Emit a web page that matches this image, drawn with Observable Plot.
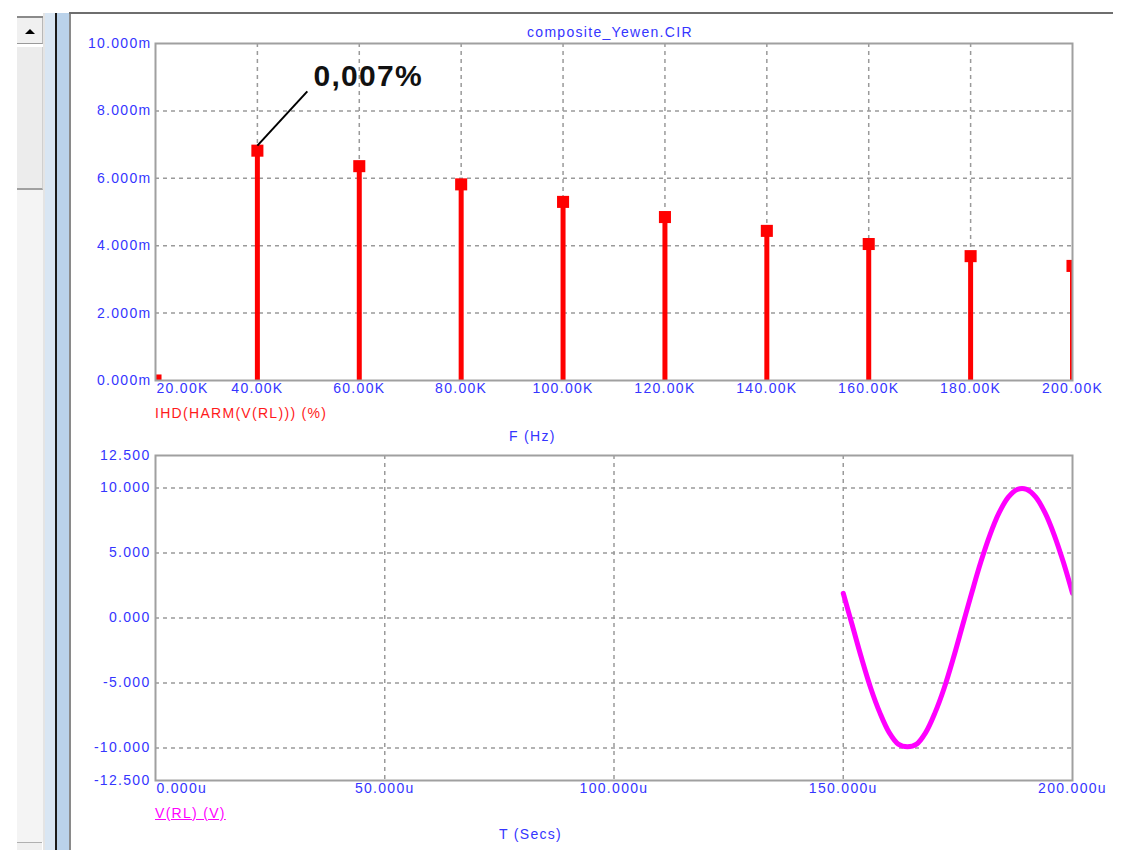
<!DOCTYPE html>
<html>
<head>
<meta charset="utf-8">
<script src="https://cdn.jsdelivr.net/npm/d3@7"></script>
<script src="https://cdn.jsdelivr.net/npm/@observablehq/plot@0.6"></script>
<style>
  html, body { margin:0; padding:0; background:#fff; }
  body { width:1124px; height:850px; position:relative; overflow:hidden; font-family:"Liberation Sans", Arial, sans-serif; }
  .abs { position:absolute; }
  .lbl { position:absolute; font-size:14px; letter-spacing:1.3px; white-space:nowrap; transform:translateY(-50%); line-height:16px; }
  svg text { letter-spacing:1.3px; }
</style>
</head>
<body>
<!-- window chrome (left scrollbar + splitter) -->
<div class="abs" style="left:17px;top:16px;width:26px;height:2px;background:#8a8a8a"></div>
<div class="abs" style="left:17px;top:18px;width:25px;height:25px;background:#f0f0f0;border-right:1px solid #b8b8b8;border-bottom:1px solid #9a9a9a"></div>
<div class="abs" style="left:25px;top:29px;width:0;height:0;border-left:5px solid transparent;border-right:5px solid transparent;border-bottom:5px solid #000"></div>
<div class="abs" style="left:17px;top:47px;width:25px;height:141px;background:#ececec;border-right:1px solid #d0d0d0;border-bottom:2px solid #a0a0a0"></div>
<div class="abs" style="left:17px;top:190px;width:26px;height:652px;background:#f4f4f4"></div>
<div class="abs" style="left:17px;top:842px;width:25px;height:8px;background:#f0f0f0;border-top:1px solid #b0b0b0"></div>
<div class="abs" style="left:43px;top:13px;width:2px;height:837px;background:#e4e4e4"></div>
<div class="abs" style="left:45px;top:13px;width:10px;height:837px;background:#d9e6f3"></div>
<div class="abs" style="left:55px;top:13px;width:2px;height:837px;background:#1a1a1a"></div>
<div class="abs" style="left:57px;top:13px;width:12px;height:837px;background:#bad2ea"></div>
<div class="abs" style="left:69px;top:13px;width:2px;height:837px;background:#8a8a8a"></div>
<div class="abs" style="left:69px;top:12px;width:1044px;height:2px;background:#6e6e6e"></div>

<div id="top" class="abs" style="left:0;top:0"></div>
<div id="bot" class="abs" style="left:0;top:450px"></div>

<div class="lbl" id="title" style="left:527px;top:32px;color:#3535ff">composite_Yewen.CIR</div>
<div class="lbl" style="left:155px;top:413px;color:#ff1a1a">IHD(HARM(V(RL))) (%)</div>
<div class="lbl" style="left:509px;top:436px;color:#3535ff">F (Hz)</div>
<div class="lbl" style="left:155px;top:813px;color:#ff00ff;text-decoration:underline">V(RL) (V)</div>
<div class="lbl" style="left:499px;top:834px;color:#3535ff">T (Secs)</div>

<script>
// ---- data ----
const freqK   = [20, 40, 60, 80, 100, 120, 140, 160, 180, 200];          // kHz
const ihdMilli = [0, 6.82, 6.36, 5.82, 5.30, 4.85, 4.44, 4.05, 3.69, 3.40]; // IHD in m(%)
const freqTicks = [20, 40, 60, 80, 100, 120, 140, 160, 180, 200];
const freqGrid  = [40, 60, 80, 100, 120, 140, 160, 180];
const ihdTicks  = [0, 2, 4, 6, 8, 10];
const ihdGrid   = [2, 4, 6, 8];
const annoFrom  = [40, 6.97];
const annoTo    = [49.8, 8.58];
const annoText  = ["0,007%"];
const annoPos   = [51, 9.02];

const tMicro = [150, 152, 154, 156, 158, 160, 162, 164, 166, 168, 170, 172, 174, 176, 178, 180, 182, 184, 186, 188, 190, 192, 194, 196, 198, 200];
const vRL    = [1.9, -0.6, -3.1, -5.4, -7.3, -8.8, -9.7, -9.9, -9.7, -8.8, -7.3, -5.4, -3.1, -0.6, 1.9, 4.3, 6.4, 8.1, 9.3, 9.9, 9.9, 9.3, 8.1, 6.4, 4.3, 1.9];
const tTicks = [0, 50, 100, 150, 200];
const tGrid  = [50, 100, 150];
const vTicks = [-12.5, -10, -5, 0, 5, 10, 12.5];
const vGrid  = [-10, -5, 0, 5, 10];

// ---- styles ----
const FONT = "Liberation Sans, Arial, sans-serif";
const BLUE = "#3535ff", RED = "#ff0000", MAG = "#ff00ff", GRID = "#9a9a9a", FRAME = "#a0a0a0";
const gridOpts = {stroke: GRID, strokeOpacity: 1, strokeWidth: 1.5, strokeDasharray: "4,4"};

const ihdData = freqK.map((f, i) => ({f, v: ihdMilli[i]}));

const topPlot = Plot.plot({
  width: 1124, height: 450,
  marginLeft: 155, marginRight: 52, marginTop: 43, marginBottom: 70,
  x: {domain: [20, 200], axis: null},
  y: {domain: [0, 10], axis: null},
  style: {fontFamily: FONT, background: "transparent", overflow: "visible"},
  marks: [
    Plot.gridX(freqGrid, gridOpts),
    Plot.gridY(ihdGrid, gridOpts),
    Plot.ruleX(ihdData, {x: "f", y1: 0, y2: "v", stroke: RED, strokeWidth: 5, clip: true}),
    Plot.dot(ihdData, {x: "f", y: "v", symbol: "square", r: 6.8, fill: RED, stroke: "none", clip: true}),
    Plot.frame({stroke: FRAME, strokeWidth: 2}),
    Plot.text(ihdTicks, {y: d => d, text: d => d.toFixed(3) + "m", frameAnchor: "left", dx: -4, textAnchor: "end", fill: BLUE, fontSize: 14}),
    Plot.text(freqTicks.slice(0, 1), {x: d => d, text: d => d.toFixed(2) + "K", frameAnchor: "bottom", dy: 12, dx: 1, textAnchor: "start", fill: BLUE, fontSize: 14}),
    Plot.text(freqTicks.slice(1), {x: d => d, text: d => d.toFixed(2) + "K", frameAnchor: "bottom", dy: 12, textAnchor: "middle", fill: BLUE, fontSize: 14}),
    Plot.link([0], {x1: () => annoFrom[0], y1: () => annoFrom[1], x2: () => annoTo[0], y2: () => annoTo[1], stroke: "#000", strokeWidth: 2}),
    Plot.text(annoText, {x: () => annoPos[0], y: () => annoPos[1], text: d => d, textAnchor: "start", fontSize: 30, fontWeight: "bold", fill: "#111"})
  ]
});
document.getElementById("top").appendChild(topPlot);

const vData = tMicro.map((t, i) => ({t, v: vRL[i]}));
const botPlot = Plot.plot({
  width: 1124, height: 400,
  marginLeft: 155, marginRight: 52, marginTop: 5, marginBottom: 70,
  x: {domain: [0, 200], axis: null},
  y: {domain: [-12.5, 12.5], axis: null},
  style: {fontFamily: FONT, background: "transparent", overflow: "visible"},
  marks: [
    Plot.gridX(tGrid, gridOpts),
    Plot.gridY(vGrid, gridOpts),
    Plot.line(vData, {x: "t", y: "v", stroke: MAG, strokeWidth: 5, curve: "catmull-rom", clip: true}),
    Plot.frame({stroke: FRAME, strokeWidth: 2}),
    Plot.text(vTicks, {y: d => d, text: d => d.toFixed(3), frameAnchor: "left", dx: -5, textAnchor: "end", fill: BLUE, fontSize: 14}),
    Plot.text(tTicks.slice(0, 1), {x: d => d, text: d => d.toFixed(3) + "u", frameAnchor: "bottom", dy: 12, dx: 1, textAnchor: "start", fill: BLUE, fontSize: 14}),
    Plot.text(tTicks.slice(1), {x: d => d, text: d => d.toFixed(3) + "u", frameAnchor: "bottom", dy: 12, textAnchor: "middle", fill: BLUE, fontSize: 14})
  ]
});
document.getElementById("bot").appendChild(botPlot);
</script>
</body>
</html>
